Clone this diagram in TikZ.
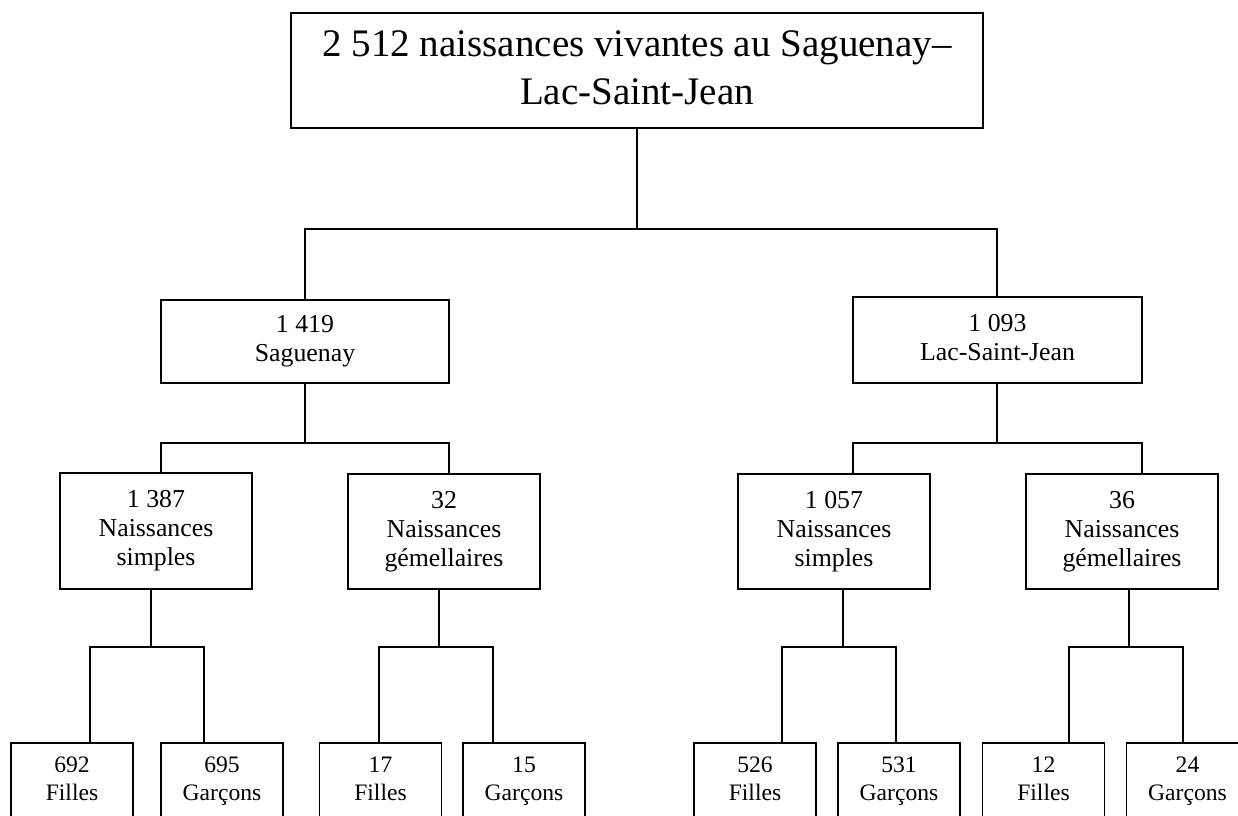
\documentclass[tikz,border=0pt]{standalone}
\usepackage{fontspec}
\setmainfont{Liberation Serif}
\begin{document}
\begin{tikzpicture}[x=1pt,y=-1pt,
  bx/.style={draw=black, line width=1.1pt, inner sep=0pt, outer sep=0pt, align=center,
             font=\fontsize{25.8}{29}\selectfont},
  leaf/.style={bx, minimum width=122pt, minimum height=76pt, font=\fontsize{23.6}{28}\selectfont},
  link/.style={draw=black, line width=1.1pt}]
\clip (0,0) rectangle (1238,815);
\fill[white] (0,0) rectangle (1238,815);
% level 1
\node[bx, minimum width=692pt, minimum height=115pt, font=\fontsize{39}{48}\selectfont] (top) at (637,70.5)
  {\strut 2 512 naissances vivantes au Saguenay–\\\strut Lac-Saint-Jean};
% level 2
\node[bx, minimum width=288pt, minimum height=83pt] (sag) at (305,341.5) {\strut 1 419\\\strut Saguenay};
\node[bx, minimum width=289pt, minimum height=86pt] (lac) at (997.5,340) {\strut 1 093\\\strut Lac-Saint-Jean};
% level 3
\node[bx, minimum width=192pt, minimum height=116pt] (s1) at (156,531) {\strut 1 387\\\strut Naissances\\\strut simples};
\node[bx, minimum width=192pt, minimum height=115pt] (s2) at (444,531.5) {\strut 32\\\strut Naissances\\\strut gémellaires};
\node[bx, minimum width=192pt, minimum height=115pt] (l1) at (834,531.5) {\strut 1 057\\\strut Naissances\\\strut simples};
\node[bx, minimum width=192pt, minimum height=115pt] (l2) at (1122,531.5) {\strut 36\\\strut Naissances\\\strut gémellaires};
% level 4
\node[leaf] (s1f) at (72,781) {\strut 692\\\strut Filles};
\node[leaf] (s1g) at (222,781) {\strut 695\\\strut Garçons};
\node[leaf] (s2f) at (380.5,781) {\strut 17\\\strut Filles};
\node[leaf] (s2g) at (524,781) {\strut 15\\\strut Garçons};
\node[leaf] (l1f) at (755,781) {\strut 526\\\strut Filles};
\node[leaf] (l1g) at (899,781) {\strut 531\\\strut Garçons};
\node[leaf] (l2f) at (1043.5,781) {\strut 12\\\strut Filles};
\node[leaf] (l2g) at (1187.5,781) {\strut 24\\\strut Garçons};
% bus coordinates
\coordinate (j0) at (637,229);
\coordinate (j0L) at (305,229);
\coordinate (j0R) at (997,229);
\coordinate (js) at (305,443);
\coordinate (jsL) at (161,443);
\coordinate (jsR) at (449,443);
\coordinate (jl) at (997,443);
\coordinate (jlL) at (853,443);
\coordinate (jlR) at (1142,443);
\coordinate (js1) at (151,647);
\coordinate (js1L) at (90,647);
\coordinate (js1R) at (204,647);
\coordinate (js2) at (439,647);
\coordinate (js2L) at (379,647);
\coordinate (js2R) at (493,647);
\coordinate (jl1) at (843,647);
\coordinate (jl1L) at (782,647);
\coordinate (jl1R) at (896,647);
\coordinate (jl2) at (1129,647);
\coordinate (jl2L) at (1069,647);
\coordinate (jl2R) at (1183,647);
% connectors
\draw[link] (top.south -| j0) -- (j0);
\draw[link] (sag.north -| j0L) -- (j0L) -- (j0R) -- (lac.north -| j0R);
\draw[link] (sag.south -| js) -- (js);
\draw[link] (s1.north -| jsL) -- (jsL) -- (jsR) -- (s2.north -| jsR);
\draw[link] (lac.south -| jl) -- (jl);
\draw[link] (l1.north -| jlL) -- (jlL) -- (jlR) -- (l2.north -| jlR);
\draw[link] (s1.south -| js1) -- (js1);
\draw[link] (s1f.north -| js1L) -- (js1L) -- (js1R) -- (s1g.north -| js1R);
\draw[link] (s2.south -| js2) -- (js2);
\draw[link] (s2f.north -| js2L) -- (js2L) -- (js2R) -- (s2g.north -| js2R);
\draw[link] (l1.south -| jl1) -- (jl1);
\draw[link] (l1f.north -| jl1L) -- (jl1L) -- (jl1R) -- (l1g.north -| jl1R);
\draw[link] (l2.south -| jl2) -- (jl2);
\draw[link] (l2f.north -| jl2L) -- (jl2L) -- (jl2R) -- (l2g.north -| jl2R);
\end{tikzpicture}
\end{document}
